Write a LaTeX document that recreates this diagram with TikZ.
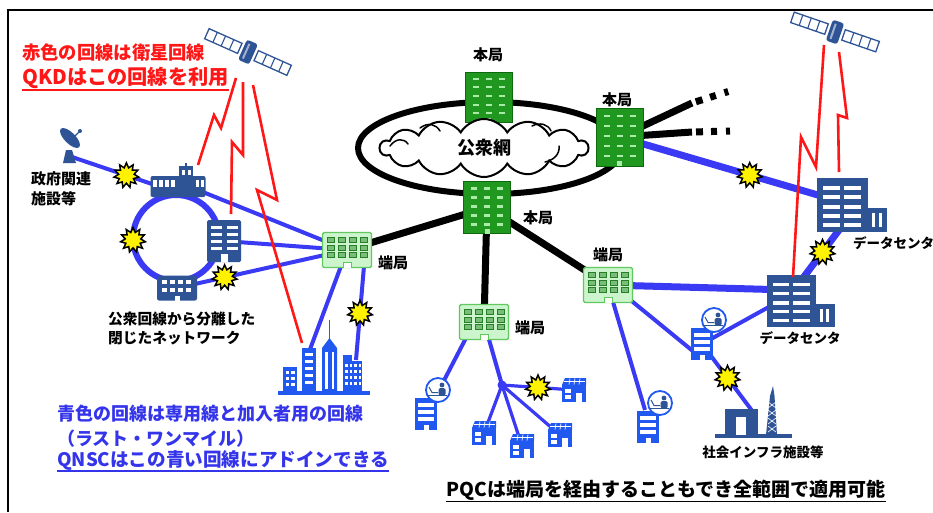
\documentclass[tikz,border=0pt]{standalone}
\usepackage{fontspec}
\setmainfont{Noto Sans CJK JP}
\usetikzlibrary{shapes.symbols,shapes.geometric,calc}

\definecolor{navy}{RGB}{47,84,150}
\definecolor{lineblue}{RGB}{58,58,245}
\definecolor{iconblue}{RGB}{32,88,240}
\definecolor{zred}{RGB}{255,22,22}
\definecolor{dkgreen}{RGB}{32,152,32}
\definecolor{dkgreenedge}{RGB}{14,105,14}
\definecolor{winlight}{RGB}{170,235,170}
\definecolor{ltgreen}{RGB}{205,245,205}
\definecolor{ltgreenedge}{RGB}{95,200,95}
\definecolor{ltgreenwin}{RGB}{120,190,120}
\definecolor{ltgreenwinedge}{RGB}{40,125,40}
\definecolor{txtblue}{RGB}{52,52,235}

\tikzset{
  % dark green head office
  pics/honkyoku/.style={code={
    \filldraw[fill=dkgreen, draw=dkgreenedge, line width=0.8pt] (-23.5,-26) rectangle (23.5,26);
    \foreach \cx in {-13,0,13}{\foreach \ry in {-19,-10,-1,8,17}{
      \fill[winlight] (\cx-3,\ry-1.1) rectangle (\cx+3,\ry+1.1);}}
    \fill[winlight] (-2.5,26) rectangle (2.5,21.5);
  }},
  % light green local exchange
  pics/tankyoku/.style={code={
    \filldraw[fill=ltgreen, draw=ltgreenedge, line width=1.4pt, rounded corners=1.5pt] (-24.5,-17.5) rectangle (24.5,17.5);
    \foreach \cx in {-16.5,-5.5,5.5,16.5}{\foreach \ry in {-10,-2.5,5}{
      \filldraw[fill=ltgreenwin, draw=ltgreenwinedge, line width=0.6pt] (\cx-3.6,\ry-2.4) rectangle (\cx+3.6,\ry+2.4);}}
    \filldraw[fill=white, draw=ltgreenedge, line width=1pt] (-4,17.6) -- (-4,12.5) -- (4,12.5) -- (4,17.6);
  }},
  pics/officeE/.style={code={
    \fill[navy, rounded corners=1.5pt] (-17,-21) rectangle (17,21);
    \foreach \cx in {-8,8}{\foreach \ry in {-14,-7,0,7}{
      \fill[white] (\cx-5.5,\ry-1.5) rectangle (\cx+5.5,\ry+1.5);}}
    \fill[white] (-3.5,21.2) rectangle (3.5,13);
  }},
  pics/govhall/.style={code={
    \fill[navy, rounded corners=2pt] (-27.5,-6) rectangle (27.5,15);
    \fill[navy] (1,-16) rectangle (15,15);
    \fill[navy] (7,-19) rectangle (9,-16);
    \foreach \cx in {-25,-19,-13,-7}{\fill[white] (\cx,-2) rectangle (\cx+4,5);}
    \foreach \cx in {18,23}{\fill[white] (\cx,-2) rectangle (\cx+3,5);}
    \foreach \cx in {3.5,9.5}{\fill[white] (\cx,-12) rectangle (\cx+3,-7);}
  }},
  pics/ringhall/.style={code={
    \fill[navy, rounded corners=2pt] (-20,-12.5) rectangle (20,12.5);
    \foreach \cx in {-16,-8,0,8}{\foreach \ry in {-8,0}{
      \fill[white] (\cx+1,\ry) rectangle (\cx+6,\ry+3.5);}}
    \fill[white] (-2.5,12.6) rectangle (2.5,8);
  }},
  pics/datacenter/.style={code={
    \fill[navy] (-35,-27) rectangle (16,27);
    \fill[navy] (16,3) rectangle (35,27);
    \foreach \cx in {-21,0.5}{\foreach \ry in {-17,-8,2,11,20}{
      \fill[white] (\cx-8.5,\ry-1.7) rectangle (\cx+8.5,\ry+1.7);}}
    \fill[white] (20,8) rectangle (23,22);
    \fill[white] (26.5,8) rectangle (29.5,22);
  }},
  pics/satellite/.style={code={
    \foreach \s in {-1,1}{
      \filldraw[fill=white, draw=navy, line width=1.3pt] (\s*9,-5.5) rectangle (\s*45,5.5);
      \foreach \d in {18,27,36}{\draw[navy, line width=1.1pt] (\s*\d,-5.5) -- (\s*\d,5.5);}}
    \fill[navy, rounded corners=2.5pt] (-6,-11) rectangle (6,11);
    \fill[navy!45] (-3,-8) rectangle (-1,8);
  }},
  pics/house/.style={code={
    \fill[iconblue] (-12,-5) rectangle (12,12);
    \fill[iconblue] (-12,-5) -- (-9,-12) -- (12,-12) -- (12,-5) -- cycle;
    \draw[white, line width=0.7pt] (-10,-8.5) -- (11,-8.5);
    \foreach \x in {-4,1,6}{\draw[white, line width=0.7pt] (\x,-11.5) -- (\x-1,-5.5);}
    \fill[white] (-9,-1) rectangle (-3,3);
    \fill[white] (-9,5) rectangle (-3,9);
    \fill[white] (2,3) rectangle (8,12.2);
  }},
  pics/deskoffice/.style={code={
    \fill[iconblue] (-11,-16) rectangle (11,16);
    \foreach \ry in {-9,-2,5}{\fill[white] (-8,\ry-1.6) rectangle (8,\ry+1.6);}
    \fill[white] (-2.5,16.2) rectangle (2.5,11);
    \filldraw[fill=white, draw=iconblue, line width=1.8pt] (12,-24) circle (12);
    \fill[navy] (16,-29) circle (2.4);
    \fill[navy, rounded corners=1.5pt] (12.5,-26) rectangle (19.5,-18.5);
    \draw[navy, line width=1pt] (3,-27) -- (6,-21.5) -- (12,-21.5);
    \draw[navy, line width=1.2pt] (2,-18.5) -- (21,-18.5);
  }},
  pics/infra/.style={code={
    \fill[navy] (-38,22) rectangle (39,26);
    \fill[navy] (-28,-3) rectangle (5,23);
    \fill[white] (-17,5) rectangle (-7,23);
    \fill[navy] (20,-26) -- (21.5,-16) -- (24,23) -- (13,23) -- (17,-16) -- cycle;
    \foreach \y in {-10,-2,6,14}{\draw[white, line width=0.6pt] (15,\y) -- (23,\y+6) (23,\y) -- (15,\y+6);}
  }},
  burst/.style={star, star points=11, star point ratio=1.6, fill=yellow, draw=black,
    line width=1.5pt, minimum size=25pt, inner sep=0pt},
  tie/.style={draw=lineblue, line width=4pt},
  tiethick/.style={draw=lineblue, line width=7pt},
  tiethin/.style={draw=lineblue, line width=3.2pt},
  trunk/.style={draw=black, line width=7pt},
  radio/.style={draw=zred, line width=2.6pt, line join=miter},
  curl/.style={draw=black, line width=1.5pt, line cap=round},
  lbl/.style={font=\bfseries\fontsize{15}{18}\selectfont, inner sep=0pt},
  smalllbl/.style={font=\bfseries\fontsize{13.5}{16}\selectfont, inner sep=0pt},
}

\begin{document}
\begin{tikzpicture}[x=1pt, y=-1pt]
\useasboundingbox (0,0) rectangle (933,512);
\fill[white] (0,0) rectangle (933,512);

% outer frame
\draw[line width=1.6pt] (8,512) -- (8,10) -- (933,10);

% positions of the sites
\coordinate (dish) at (72,157);
\coordinate (govW) at (152,184);
\coordinate (gov) at (178,182);
\coordinate (offE) at (224,241);
\coordinate (ringB) at (177,288);
\coordinate (ring) at (176,238);
\coordinate (tkL) at (347,250);
\coordinate (tkLse) at (364,266);
\coordinate (cityA) at (309,352);
\coordinate (cityB) at (356,360);
\coordinate (hkT) at (488.5,97);
\coordinate (hkR) at (619.5,137);
\coordinate (hkB) at (487,207.5);
\coordinate (tkR) at (608,285);
\coordinate (tkRse) at (628,298);
\coordinate (tkB) at (484,322);
\coordinate (tkBsw) at (466,338);
\coordinate (dcU) at (852,205);
\coordinate (dcUb) at (842,226);
\coordinate (dcL) at (801,301);
\coordinate (dcLt) at (803,278);
\coordinate (dcLw) at (790,290);
\coordinate (dcLsw) at (785,298);
\coordinate (ofA) at (702,344);
\coordinate (ofAw) at (694,352);
\coordinate (ofB) at (648,427);
\coordinate (ofBt) at (645,410);
\coordinate (ofC) at (426,414);
\coordinate (ofCc) at (438,392);
\coordinate (hub) at (502,385);
\coordinate (hs1) at (574,390);
\coordinate (hs2) at (484,433);
\coordinate (hs3) at (522,446);
\coordinate (hs4) at (560,435);
\coordinate (infra) at (753,412);
\coordinate (stub1) at (692,103);
\coordinate (stub1e) at (733,90);
\coordinate (stub2) at (692,132);
\coordinate (stub2e) at (732,131);

% backbone trunks
\draw[trunk] (tkL) -- (hkB);
\draw[trunk] (hkB) -- (tkB);
\draw[trunk] (hkB) -- (tkR);
\draw[trunk] (hkR) -- (stub1);
\draw[trunk] (hkR) -- (stub2);
\draw[trunk, dash pattern=on 0pt off 4pt on 7pt off 8pt on 6pt off 9pt on 4pt off 60pt] (stub1) -- (stub1e);
\draw[trunk, dash pattern=on 0pt off 4pt on 7pt off 8pt on 6pt off 9pt on 4pt off 60pt] (stub2) -- (stub2e);

% closed network ring
\draw[lineblue, line width=6pt] (ring) circle (43);
\node[burst] (bRing) at (133,240) {};

% access lines (left)
\draw[tie] (dish) -- node[burst, pos=.68] (b1) {} (govW);
\draw[tie] (gov) -- (tkL);
\draw[tie] (offE) -- (tkL);
\draw[tie] (ringB) -- node[burst, pos=.28] (b2) {} (tkL);
\draw[tie] (tkL) -- (cityA);
\draw[tie] (tkLse) -- node[burst, pos=.5] (b3) {} (cityB);

% access lines (right)
\draw[tiethick] (hkR) -- node[burst, pos=.56] (b4) {} (dcU);
\draw[tiethick] (tkR) -- (dcLw);
\draw[tiethick] (dcLt) -- node[burst, pos=.5] (b5) {} (dcUb);
\draw[tie] (tkRse) -- (ofAw);
\draw[tie] (tkR) -- (ofBt);
\draw[tie] (dcLsw) -- (ofA);
\draw[tie] (ofA) -- node[burst, pos=.5] (b6) {} (infra);
\draw[tie] (tkBsw) -- (ofCc);
\draw[tie] (tkB) -- (hub);
\draw[tiethin] (hub) -- node[burst, pos=.5] (b7) {} (hs1);
\draw[tiethin] (hub) -- (hs2);
\draw[tiethin] (hub) -- (hs3);
\draw[tiethin] (hub) -- (hs4);
\fill[lineblue] (hub) circle (4.5);

% public network
\draw[line width=6pt] (490,148) ellipse (132 and 46);
\pic[yscale=0.96] at (hkT) {honkyoku};
\node[cloud, cloud puffs=14, cloud puff arc=120, aspect=3.6, draw=black, line width=2pt,
  fill=white, minimum width=208pt, minimum height=58pt, inner sep=0pt,
  font=\bfseries\fontsize{18}{20}\selectfont] (net) at (484,148) {公衆網};
% inner curls of the cloud
\draw[curl] (390,146) .. controls (396,138) and (404,138) .. (408,144);
\draw[curl] (420,128) .. controls (428,122) and (436,124) .. (440,131);
\draw[curl] (532,126) .. controls (540,122) and (548,124) .. (551,131);
\draw[curl] (545,162) .. controls (554,160) and (560,154) .. (559,146);
\pic[yscale=1.115] at (hkR) {honkyoku};
\pic at (hkB) {honkyoku};

% exchanges
\pic at (tkL) {tankyoku};
\pic at (tkR) {tankyoku};
\pic at (tkB) {tankyoku};

% buildings on the closed ring
\pic at (gov) {govhall};
\pic at (offE) {officeE};
\pic at (ringB) {ringhall};

% parabolic antenna
\fill[navy] (63,163) -- (66,150) -- (72,150) -- (76,163) -- cycle;
\fill[navy, rotate around={-45:(70,138)}] (70,138) ellipse (13 and 5.5);
\draw[navy, line width=1.4pt] (71,140) -- (80,131);
\fill[navy] (80,131) circle (2);

% data centres
\pic at (dcU) {datacenter};
\pic[scale=0.96] at (dcL) {datacenter};

% offices, houses, infrastructure
\pic at (ofA) {deskoffice};
\pic at (ofB) {deskoffice};
\pic at (ofC) {deskoffice};
\pic at (hs1) {house};
\pic at (hs2) {house};
\pic at (hs3) {house};
\pic at (hs4) {house};
\pic at (infra) {infra};

% city block
\fill[iconblue] (278,391) rectangle (370,395);
\fill[iconblue] (283,367) rectangle (297,392);
\foreach \x in {285.5,291}{\foreach \y in {371,377,383}{\fill[white] (\x,\y) rectangle ++(3.5,3);}}
\fill[iconblue] (302,348) rectangle (316,392);
\foreach \y in {353,360,367,374,381}{\fill[white] (305,\y) rectangle ++(8,2.6);}
\fill[iconblue] (322,392) -- (322,348) -- (329.5,338) -- (337,348) -- (337,392) -- cycle;
\draw[iconblue, line width=1.6pt] (329.5,340) -- (329.5,320);
\fill[white] (325,352) rectangle (327.5,389);
\fill[white] (331.5,352) rectangle (334,389);
\fill[iconblue] (343,355) rectangle (352,392);
\fill[iconblue] (352,361) rectangle (362,392);
\foreach \x in {345,349.5,354,358.5}{\foreach \y in {364,370,376,382}{\fill[white] (\x,\y) rectangle ++(2.5,3);}}

% satellites
\pic[rotate=-24] at (248,52) {satellite};
\pic[rotate=-19] at (835,32) {satellite};

% satellite links
\draw[radio] (236,78) -- (221,128) -- (214,115) -- (198,165);
\draw[radio] (243,82) -- (243,155) -- (232,142) -- (231,214);
\draw[radio] (253,85) -- (277,200) -- (257,190) -- (302,343);
\draw[radio] (824,45) -- (816,167) -- (801,137) -- (793,277);
\draw[radio] (839,52) -- (847,118) -- (838,115) -- (839,172);

% labels
\node[lbl] (lHkT) at (488,55) {本局};
\node[lbl] (lHkR) at (617,100) {本局};
\node[lbl] (lHkB) at (538,218) {本局};
\node[lbl] (lTkL) at (393,263) {端局};
\node[lbl] (lTkR) at (608,255) {端局};
\node[lbl] (lTkB) at (530,328) {端局};
\node[smalllbl, anchor=west] (lDcU) at (853,243) {データセンタ};
\node[smalllbl] (lDcL) at (800,338) {データセンタ};
\node[smalllbl] (lInfra) at (763,452) {社会インフラ施設等};
\node[lbl, anchor=north west, align=left, font=\bfseries\fontsize{15}{20}\selectfont] (lGov) at (31,171) {政府関連\\施設等};
\node[lbl, anchor=north west, align=left, font=\bfseries\fontsize{14.7}{19}\selectfont] (lRing) at (108,312) {公衆回線から分離した\\閉じたネットワーク};

% captions
\node[anchor=west, inner sep=0pt, text=zred, font=\bfseries\fontsize{18.3}{20}\selectfont] (capRed1) at (22,53) {赤色の回線は衛星回線};
\node[anchor=west, inner sep=0pt, text=zred, font=\bfseries\fontsize{20.2}{24}\selectfont] (capRed2) at (22,78) {QKDはこの回線を利用};
\draw[zred, line width=1.6pt] ([yshift=-1pt]capRed2.south west) -- ([yshift=-1pt]capRed2.south east);

\node[anchor=west, inner sep=0pt, text=txtblue, font=\bfseries\fontsize{18}{20}\selectfont] (capBlue1) at (57,414) {青色の回線は専用線と加入者用の回線};
\node[anchor=west, inner sep=0pt, text=txtblue, font=\bfseries\fontsize{18}{20}\selectfont] (capBlue2) at (57,439) {（ラスト・ワンマイル）};
\node[anchor=west, inner sep=0pt, text=txtblue, font=\bfseries\fontsize{18.6}{20}\selectfont] (capBlue3) at (57,460) {QNSCはこの青い回線にアドインできる};
\draw[txtblue, line width=1.5pt] ([yshift=-1pt]capBlue3.south west) -- ([yshift=-1pt]capBlue3.south east);

\node[inner sep=0pt, font=\bfseries\fontsize{19}{22}\selectfont] (capPqc) at (666,490) {PQCは端局を経由することもでき全範囲で適用可能};
\draw[line width=1.5pt] ([yshift=-1pt]capPqc.south west) -- ([yshift=-1pt]capPqc.south east);
\end{tikzpicture}
\end{document}
